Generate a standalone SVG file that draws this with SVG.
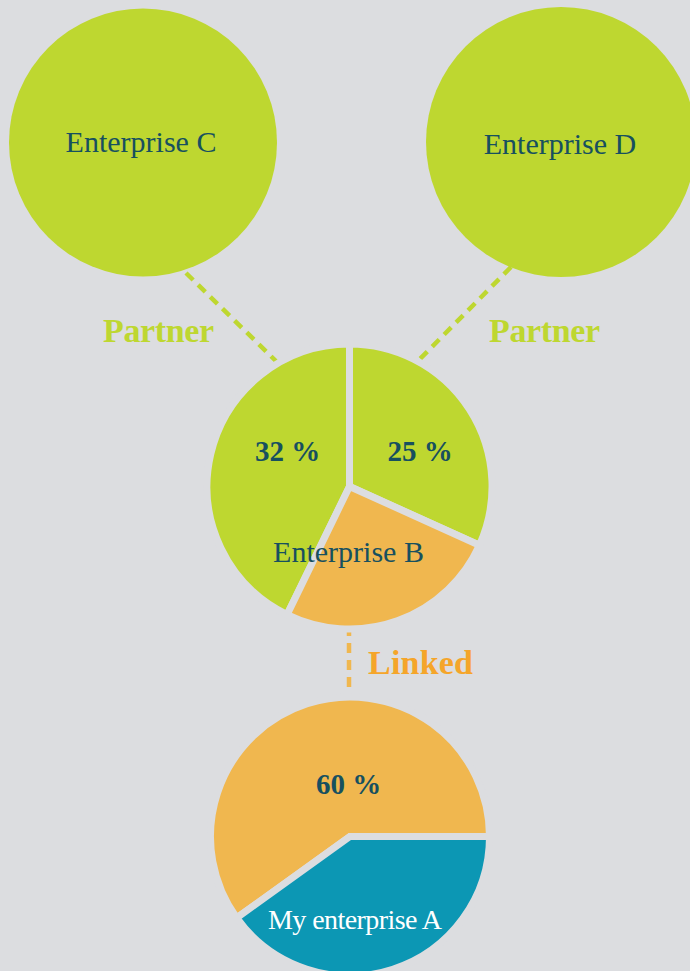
<svg xmlns="http://www.w3.org/2000/svg" width="690" height="971" viewBox="0 0 690 971">
<style>
.bg{fill:#dcdde0}
.green{fill:#bed730}
.orange{fill:#f0b74f}
.teal{fill:#0c97b4}
.slice{stroke:#dcdde0;stroke-width:7}
.lbl{font-family:"Liberation Serif","Times New Roman",serif;font-size:30px;fill:#17505f;text-anchor:middle}
.pct{font-family:"Liberation Serif","Times New Roman",serif;font-size:29px;font-weight:bold;fill:#17505f;text-anchor:middle}
.rel{font-family:"Liberation Serif","Times New Roman",serif;font-size:34px;font-weight:bold}
.dash{fill:none;stroke-width:4.5;stroke-dasharray:10 7}
</style>
<rect class="bg" x="0" y="0" width="690" height="971"/>
<g id="connectors">
<line class="dash" x1="186" y1="273" x2="281" y2="366" stroke="#bed730"/>
<line class="dash" x1="511" y1="267" x2="414" y2="365" stroke="#bed730"/>
<line class="dash" x1="349" y1="626" x2="349" y2="701" stroke="#f0b74f"/>
<text class="rel" x="103" y="342" fill="#bed730" textLength="111">Partner</text>
<text class="rel" x="489" y="342" fill="#bed730" textLength="111">Partner</text>
<text class="rel" x="368" y="674" fill="#f5a52a" textLength="105">Linked</text>
</g>
<g id="enterprise-c">
<circle class="green" cx="143" cy="142.5" r="134"/>
<text class="lbl" x="141" y="152">Enterprise C</text>
</g>
<g id="enterprise-d">
<circle class="green" cx="561" cy="142" r="135"/>
<text class="lbl" x="560" y="154">Enterprise D</text>
</g>
<g id="enterprise-b">
<path class="green slice" d="M349.5,486.5 L349.5,344 A142.5,142.5 0 0 0 287.1,614.6 Z"/>
<path class="green slice" d="M349.5,486.5 L349.5,344 A142.5,142.5 0 0 1 479.4,545.2 Z"/>
<path class="orange slice" d="M349.5,486.5 L479.4,545.2 A142.5,142.5 0 0 1 287.1,614.6 Z"/>
<text class="pct" x="287.5" y="461">32 %</text>
<text class="pct" x="420" y="461">25 %</text>
<text class="lbl" x="348.5" y="562">Enterprise B</text>
</g>
<g id="enterprise-a">
<path class="orange slice" d="M350,836.5 L489.5,836.5 A139.5,139.5 0 1 0 236.7,917.9 Z"/>
<path class="teal slice" d="M350,836.5 L489.5,836.5 A139.5,139.5 0 0 1 236.7,917.9 Z"/>
<text class="pct" x="348.5" y="794">60 %</text>
<text class="lbl" x="355" y="929" style="fill:#ffffff;font-size:28px" textLength="174">My enterprise A</text>
</g>
</svg>
